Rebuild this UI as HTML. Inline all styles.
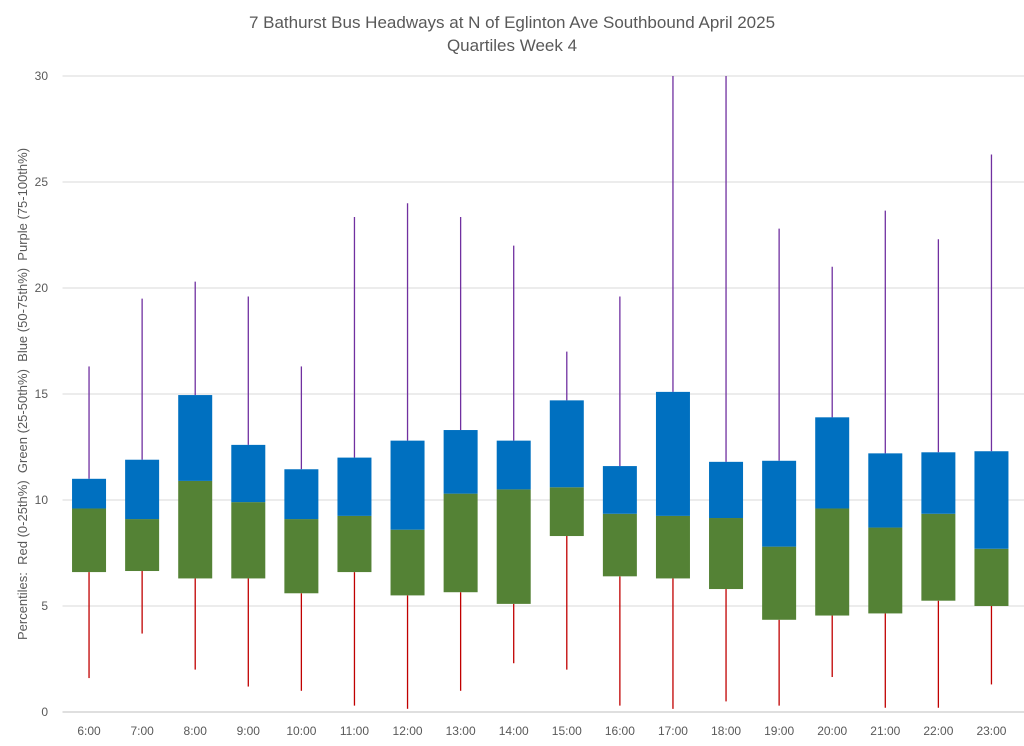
<!DOCTYPE html>
<html><head><meta charset="utf-8"><style>
body{margin:0;background:#fff;}
svg{display:block;font-family:"Liberation Sans",Calibri,sans-serif;}
</style></head><body>
<svg id="chart" width="1024" height="746">
<text x="512" y="28" text-anchor="middle" font-size="17" fill="#595959">7 Bathurst Bus Headways at N of Eglinton Ave Southbound April 2025</text>
<text x="512" y="51" text-anchor="middle" font-size="17" fill="#595959">Quartiles Week 4</text>
<text transform="translate(27,394) rotate(-90)" text-anchor="middle" font-size="13" fill="#595959" style="white-space:pre">Percentiles:  Red (0-25th%)  Green (25-50th%)  Blue (50-75th%)  Purple (75-100th%)</text>
<g id="grid"></g><g id="marks"></g><g id="labels"></g>
</svg>
<script>
const categories=["6:00","7:00","8:00","9:00","10:00","11:00","12:00","13:00","14:00","15:00","16:00","17:00","18:00","19:00","20:00","21:00","22:00","23:00"];
const minVals=[1.6,3.7,2.0,1.2,1.0,0.3,0.15,1.0,2.3,2.0,0.3,0.15,0.5,0.3,1.65,0.2,0.2,1.3];
const q1Vals=[6.6,6.65,6.3,6.3,5.6,6.6,5.5,5.65,5.1,8.3,6.4,6.3,5.8,4.35,4.55,4.65,5.25,5.0];
const medVals=[9.6,9.1,10.9,9.9,9.1,9.25,8.6,10.3,10.5,10.6,9.35,9.25,9.15,7.8,9.6,8.7,9.35,7.7];
const q3Vals=[11.0,11.9,14.95,12.6,11.45,12.0,12.8,13.3,12.8,14.7,11.6,15.1,11.8,11.85,13.9,12.2,12.25,12.3];
const maxVals=[16.3,19.5,20.3,19.6,16.3,23.35,24.0,23.35,22.0,17.0,19.6,30,30,22.8,21.0,23.65,22.3,26.3];
const yTicks=[0,5,10,15,20,25,30];
const NS="http://www.w3.org/2000/svg";
const plotLeft=62.5,plotRight=1018,plotTop=76,plotBottom=712,yMax=30;
const step=(plotRight-plotLeft)/categories.length;
function y(v){return plotBottom-Math.min(v,yMax)/yMax*(plotBottom-plotTop);}
function xc(i){return plotLeft+step*(i+0.5);}
function mk(tag,attrs,parent){const e=document.createElementNS(NS,tag);for(const k in attrs)e.setAttribute(k,attrs[k]);document.getElementById(parent).appendChild(e);return e;}
yTicks.forEach(t=>{
 const l=mk("line",{x1:plotLeft,x2:1030,y1:y(t),y2:y(t),stroke:t===0?"#bfbfbf":"#d9d9d9","stroke-width":1},"grid");
 
 
 const tx=mk("text",{x:48,y:y(t)+4,"text-anchor":"end","font-size":12,fill:"#595959"},"labels");
 tx.textContent=t;
 
 
});
const bw=34;
categories.forEach((c,i)=>{
 const x=xc(i);
 const a=mk("line",{x1:x,x2:x,y1:y(minVals[i]),y2:y(q1Vals[i]),stroke:"#c00000","stroke-width":1.3},"marks");
 
 
 const b=mk("line",{x1:x,x2:x,y1:y(q3Vals[i]),y2:y(maxVals[i]),stroke:"#7030a0","stroke-width":1.3},"marks");
 
 
 const g=mk("rect",{x:x-bw/2,y:y(medVals[i]),width:bw,height:y(q1Vals[i])-y(medVals[i]),fill:"#548235"},"marks");
 
 
 const bl=mk("rect",{x:x-bw/2,y:y(q3Vals[i]),width:bw,height:y(medVals[i])-y(q3Vals[i]),fill:"#0070c0"},"marks");
 
 
 const t=mk("text",{x:x,y:735,"text-anchor":"middle","font-size":12,fill:"#595959"},"labels");
 t.textContent=c;
 
 
});
</script>
</body></html>
